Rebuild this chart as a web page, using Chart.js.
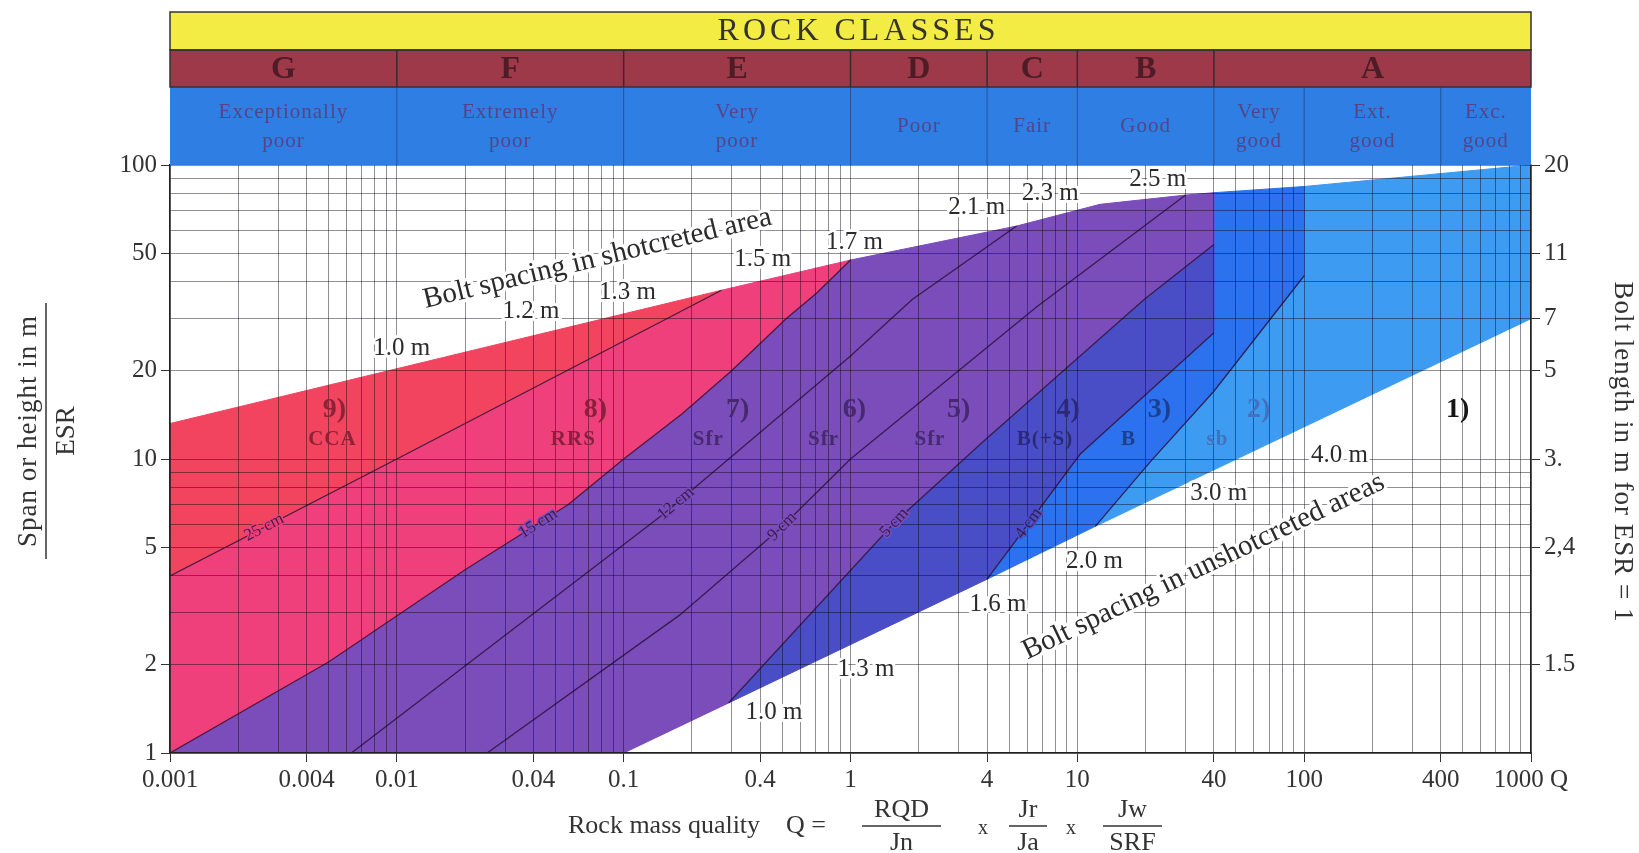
<!DOCTYPE html>
<html lang="en">
<head>
<meta charset="utf-8">
<title>Q-system rock support chart</title>
<script src="https://cdn.jsdelivr.net/npm/chart.js@4.4.1/dist/chart.umd.min.js"></script>
<style>
  html, body { margin: 0; padding: 0; background: #fff; }
  #wrap { width: 1639px; height: 853px; }
</style>
</head>
<body>
<div id="wrap"><canvas id="qchart"></canvas></div>
<script>
// ---------- Axes ----------
const qMin = 0.001, qMax = 1000;
const sMin = 1, sMax = 100;
const decadesQ = [0.001, 0.01, 0.1, 1, 10, 100];
const decadesS = [1, 10];
const mantissas = [1, 2, 3, 4, 5, 6, 7, 8, 9];
const qTickLabels = [0.001, 0.004, 0.01, 0.04, 0.1, 0.4, 1, 4, 10, 40, 100, 400, 1000];
const spanTickLabels = [1, 2, 5, 10, 20, 50, 100];
const boltTickSpans = [2, 5, 10, 20, 30, 50, 100];
const boltTickLabels = ['1.5', '2,4', '3.', '5', '7', '11', '20'];

// ---------- Header bands ----------
const classBounds = [0.001, 0.01, 0.1, 1, 4, 10, 40, 1000];
const classLetters = ['G', 'F', 'E', 'D', 'C', 'B', 'A'];
const qualityBounds = [0.001, 0.01, 0.1, 1, 4, 10, 40, 100, 400, 1000];
const qualityNames = [['Exceptionally', 'poor'], ['Extremely', 'poor'], ['Very', 'poor'], ['Poor'], ['Fair'],
                      ['Good'], ['Very', 'good'], ['Ext.', 'good'], ['Exc.', 'good']];

// ---------- Support categories, polygon vertices (Q, span/ESR) ----------
const cat9Q = [0.001, 0.01, 0.27, 0.001];
const cat9S = [4.0, 10, 37.5, 13.2];
const cat8Q = [0.001, 0.005, 0.02, 0.057, 0.1, 0.18, 0.3, 0.52, 0.71, 1, 0.27, 0.01, 0.001];
const cat8S = [1, 2.04, 4.2, 7.0, 10, 14.2, 20, 30, 36.7, 47.5, 37.5, 10, 4.0];
const cat7Q = [0.001, 0.1, 0.29, 1.56, 3.86, 19.7, 40, 40, 30, 12.6, 5.4, 1, 0.71, 0.52, 0.3, 0.18, 0.1, 0.057, 0.02, 0.005];
const cat7S = [1, 1, 1.48, 6.07, 11.5, 34.9, 53.7, 80.5, 79, 73.5, 62, 47.5, 36.7, 30, 20, 14.2, 10, 7.0, 4.2, 2.04];
const cat4Q = [0.29, 4, 10.3, 40, 40, 19.7, 3.86, 1.56];
const cat4S = [1.48, 3.9, 10.4, 26.9, 53.7, 34.9, 11.5, 6.07];
const cat3Q = [4, 12, 21, 40, 100, 100, 40, 40, 10.3];
const cat3S = [3.9, 5.9, 9.8, 17, 42, 84.5, 80.5, 26.9, 10.4];
const cat2Q = [12, 1000, 1000, 100, 100, 40, 21];
const cat2S = [5.9, 30, 100, 84.5, 42, 17, 9.8];

// ---------- Shotcrete thickness lines ----------
const sc25Q = [0.001, 0.01, 0.27];
const sc25S = [4.0, 10, 37.5];
const sc15Q = [0.001, 0.005, 0.02, 0.057, 0.1, 0.18, 0.3, 0.52, 0.71, 1];
const sc15S = [1, 2.04, 4.2, 7.0, 10, 14.2, 20, 30, 36.7, 47.5];
const sc12Q = [0.0063, 0.15, 1, 1.87, 5.4];
const sc12S = [1, 6.5, 22.4, 34.9, 62];
const sc9Q = [0.025, 0.177, 0.49, 1, 6.65, 30];
const sc9S = [1, 2.95, 5.8, 10, 33, 79];
const sc5Q = [0.29, 1.56, 3.86, 19.7, 40];
const sc5S = [1.48, 6.07, 11.5, 34.9, 53.7];
const sc4Q = [4, 10.3, 40];
const sc4S = [3.9, 10.4, 26.9];
const sb3Q = [12, 21, 40, 100];
const sb3S = [5.9, 9.8, 17, 42];

// ---------- Annotations ----------
const regionNums = ['9)', '8)', '7)', '6)', '5)', '4)', '3)', '2)', '1)'];
const regionNumQ = [0.0053, 0.075, 0.318, 1.04, 3.0, 9.1, 23, 63, 475];
const regionCodes = ['CCA', 'RRS', 'Sfr', 'Sfr', 'Sfr', 'B(+S)', 'B', 'sb'];
const regionCodeQ = [0.0052, 0.06, 0.236, 0.76, 2.24, 7.2, 16.8, 41.5];
const regionNumS = 14.7, regionCodeS = 11.6;

const upperSpacing = ['1.0 m', '1.2 m', '1.3 m', '1.5 m', '1.7 m', '2.1 m', '2.3 m', '2.5 m'];
const upperSpacingQ = [0.0105, 0.039, 0.104, 0.41, 1.04, 3.6, 7.6, 22.6];
const upperSpacingS = [23.8, 31.8, 36.8, 47.8, 54.5, 72, 80, 89];
const lowerSpacing = ['1.0 m', '1.3 m', '1.6 m', '2.0 m', '3.0 m', '4.0 m'];
const lowerSpacingQ = [0.46, 1.17, 4.47, 11.9, 42, 143];
const lowerSpacingS = [1.37, 1.92, 3.19, 4.5, 7.65, 10.3];

const thicknessLabels = ['25 cm', '15 cm', '12 cm', '9 cm', '5 cm', '4 cm'];
const thicknessAtQ = [0.0026, 0.042, 0.17, 0.5, 1.56, 6.1];

// ---------- Colours ----------
const colCat9 = '#f2445f';
const colCat8 = '#f0407c';
const colCat7 = '#7a4dba';
const colCat4 = '#4a4ec6';
const colCat3 = '#2c71ee';
const colCat2 = '#3d9bf1';
const lineCol = 'rgba(45,18,60,0.85)';
const serif = "'Liberation Serif', 'Times New Roman', serif";

Chart.defaults.font.family = serif;
Chart.defaults.color = '#333';

// ---------- Helpers ----------
const pts = (qs, ss) => qs.map((q, i) => ({ x: q, y: ss[i] }));
const isOn = (v, list) => list.some(l => Math.abs(Math.log10(v / l)) < 1e-6);
const gridQ = decadesQ.flatMap(d => mantissas.map(m => +(m * d).toPrecision(6))).concat([qMax]);
const gridS = decadesS.flatMap(d => mantissas.map(m => m * d)).concat([sMax]);

function area(label, qs, ss, color){
  return { label, data: pts(qs, ss), backgroundColor: color, borderColor: color, borderWidth: 1,
           fill: 'shape', pointRadius: 0, tension: 0 };
}
function edge(label, qs, ss){
  return { label, data: pts(qs, ss), borderColor: lineCol, borderWidth: 1.3, fill: false,
           pointRadius: 0, tension: 0 };
}

function text(ctx, str, x, y, o = {}){
  ctx.save();
  ctx.translate(x, y);
  if (o.angle) ctx.rotate(o.angle);
  ctx.font = o.font || `25px ${serif}`;
  ctx.textAlign = o.align || 'center';
  ctx.textBaseline = 'middle';
  if ('letterSpacing' in ctx) ctx.letterSpacing = o.spacing || '0px';
  if (o.halo){
    ctx.strokeStyle = o.halo; ctx.lineWidth = o.haloWidth || 6; ctx.lineJoin = 'round';
    ctx.strokeText(str, 0, 0);
  }
  ctx.fillStyle = o.color || '#2b2b2b';
  ctx.fillText(str, 0, 0);
  ctx.restore();
}

function seg(ctx, x1, y1, x2, y2){
  ctx.beginPath(); ctx.moveTo(x1, y1); ctx.lineTo(x2, y2); ctx.stroke();
}

// position + direction on a boundary line, for labels sitting on it
function onLine(xs, ys, qs, ss, q){
  let i = 0;
  while (i < qs.length - 2 && q > qs[i + 1]) i++;
  const x1 = xs.getPixelForValue(qs[i]), y1 = ys.getPixelForValue(ss[i]);
  const x2 = xs.getPixelForValue(qs[i + 1]), y2 = ys.getPixelForValue(ss[i + 1]);
  const xp = xs.getPixelForValue(q);
  const t = (xp - x1) / (x2 - x1);
  return { x: xp, y: y1 + t * (y2 - y1), angle: Math.atan2(y2 - y1, x2 - x1) };
}

// ---------- Header, titles and labels ----------
const qPlugin = {
  id: 'qsystem',
  afterDraw(chart){
    const { ctx, chartArea: a, scales: { x, y } } = chart;
    const px = q => x.getPixelForValue(q);
    const py = s => y.getPixelForValue(s);
    const L = px(qMin), R = px(qMax);
    const y0 = 12, y1 = 50, y2 = 87, y3 = a.top;

    // header bands
    ctx.save();
    ctx.fillStyle = '#f3ec45'; ctx.fillRect(L, y0, R - L, y1 - y0);
    ctx.fillStyle = '#9e3949'; ctx.fillRect(L, y1, R - L, y2 - y1);
    ctx.fillStyle = '#2f7ee3'; ctx.fillRect(L, y2, R - L, y3 - y2);
    ctx.strokeStyle = '#3a2a2c'; ctx.lineWidth = 1.5;
    classBounds.slice(1, -1).forEach(q => seg(ctx, px(q), y1, px(q), y2));
    ctx.strokeStyle = 'rgba(35,70,130,0.75)'; ctx.lineWidth = 1;
    qualityBounds.slice(1, -1).forEach(q => seg(ctx, px(q), y2, px(q), y3));
    ctx.strokeStyle = '#333'; ctx.lineWidth = 1.5;
    ctx.strokeRect(L, y0, R - L, y1 - y0);
    ctx.strokeRect(L, y1, R - L, y2 - y1);
    ctx.restore();

    text(ctx, 'ROCK CLASSES', (L + R) / 2 + 8, (y0 + y1) / 2 + 1,
         { font: `32px ${serif}`, color: '#35332a', spacing: '4px' });
    classLetters.forEach((c, i) => {
      const cx = (px(classBounds[i]) + px(classBounds[i + 1])) / 2;
      text(ctx, c, cx, (y1 + y2) / 2 + 1, { font: `bold 32px ${serif}`, color: '#4e1c27' });
    });
    qualityNames.forEach((n, i) => {
      const cx = (px(qualityBounds[i]) + px(qualityBounds[i + 1])) / 2;
      const mid = (y2 + y3) / 2;
      const f = { font: `21px ${serif}`, color: '#54458a', spacing: '1px' };
      if (n.length === 1) text(ctx, n[0], cx, mid, f);
      else {
        text(ctx, n[0], cx, mid - 14, f);
        text(ctx, n[1], cx, mid + 15, f);
      }
    });

    // shotcrete thickness labels on their lines
    const thickLines = [[sc25Q, sc25S, colCat8], [sc15Q, sc15S, colCat7], [sc12Q, sc12S, colCat7],
                        [sc9Q, sc9S, colCat7], [sc5Q, sc5S, colCat7], [sc4Q, sc4S, colCat4]];
    thicknessLabels.forEach((t, i) => {
      const [qs, ss, bg] = thickLines[i];
      const p = onLine(x, y, qs, ss, thicknessAtQ[i]);
      text(ctx, t, p.x, p.y, { angle: p.angle, font: `17px ${serif}`, color: 'rgba(50,22,62,0.9)', halo: bg, haloWidth: 3 });
    });

    // bolt spacing annotations
    const top = onLine(x, y, [0.001, 0.27], [13.2, 37.5], 0.0767);
    text(ctx, 'Bolt spacing in shotcreted area', top.x, py(48), { angle: top.angle, font: `29px ${serif}`, halo: '#fff', haloWidth: 7 });
    const bot = onLine(x, y, [0.1, 1000], [1, 30], 36);
    text(ctx, 'Bolt spacing in unshotcreted areas', bot.x, py(4.3), { angle: bot.angle, font: `29px ${serif}`, halo: '#fff', haloWidth: 7 });
    upperSpacing.forEach((t, i) => text(ctx, t, px(upperSpacingQ[i]), py(upperSpacingS[i]), { halo: '#fff', haloWidth: 6 }));
    lowerSpacing.forEach((t, i) => text(ctx, t, px(lowerSpacingQ[i]), py(lowerSpacingS[i]), { halo: '#fff', haloWidth: 6 }));

    // support category labels
    const labCols = ['#8e2238', '#8a1f3e', '#46296e', '#46296e', '#46296e', '#2b2a78', '#1c3f92', '#4470bd', '#151515'];
    regionNums.forEach((t, i) => text(ctx, t, px(regionNumQ[i]), py(regionNumS), { font: `bold 28px ${serif}`, color: labCols[i] }));
    regionCodes.forEach((t, i) => text(ctx, t, px(regionCodeQ[i]), py(regionCodeS), { font: `bold 21px ${serif}`, color: labCols[i], spacing: '1px' }));

    // axis titles
    text(ctx, 'Span or height in m', 29, 431, { angle: -Math.PI / 2, font: `27px ${serif}`, color: '#333', spacing: '1px' });
    ctx.save(); ctx.strokeStyle = '#333'; ctx.lineWidth = 1.5; seg(ctx, 46, 303, 46, 559); ctx.restore();
    text(ctx, 'ESR', 67, 431, { angle: -Math.PI / 2, font: `27px ${serif}`, color: '#333' });
    text(ctx, 'Bolt length in m for ESR = 1', 1622, 452, { angle: Math.PI / 2, font: `27px ${serif}`, color: '#333', spacing: '1px' });

    const by = 826;
    text(ctx, 'Rock mass quality', 568, by, { align: 'left', font: `26px ${serif}`, color: '#333' });
    text(ctx, 'Q =', 786, by, { align: 'left', font: `26px ${serif}`, color: '#333' });
    const fracs = [['RQD', 'Jn', 862, 941], ['Jr', 'Ja', 1009, 1047], ['Jw', 'SRF', 1103, 1162]];
    ctx.save(); ctx.strokeStyle = '#333'; ctx.lineWidth = 1.3;
    fracs.forEach(([n, d, a1, a2]) => {
      seg(ctx, a1, by, a2, by);
      text(ctx, n, (a1 + a2) / 2, by - 16, { font: `26px ${serif}`, color: '#333' });
      text(ctx, d, (a1 + a2) / 2, by + 17, { font: `26px ${serif}`, color: '#333' });
    });
    ctx.restore();
    text(ctx, 'x', 983, by + 3, { font: `20px ${serif}`, color: '#333' });
    text(ctx, 'x', 1071, by + 3, { font: `20px ${serif}`, color: '#333' });
  }
};

// ---------- Chart ----------
const gridCol = 'rgba(12,6,22,0.45)';
const tickFont = { family: serif, size: 25 };

new Chart(document.getElementById('qchart'), {
  type: 'line',
  data: {
    datasets: [
      edge('25 cm', sc25Q, sc25S),
      edge('15 cm', sc15Q, sc15S),
      edge('12 cm', sc12Q, sc12S),
      edge('9 cm', sc9Q, sc9S),
      edge('5 cm', sc5Q, sc5S),
      edge('4 cm', sc4Q, sc4S),
      edge('B/sb', sb3Q, sb3S),
      area('9) CCA', cat9Q, cat9S, colCat9),
      area('8) RRS', cat8Q, cat8S, colCat8),
      area('5)-7) Sfr', cat7Q, cat7S, colCat7),
      area('4) B(+S)', cat4Q, cat4S, colCat4),
      area('3) B', cat3Q, cat3S, colCat3),
      area('2) sb', cat2Q, cat2S, colCat2)
    ]
  },
  options: {
    responsive: true,
    maintainAspectRatio: false,
    devicePixelRatio: 1,
    animation: false,
    layout: { padding: { top: 165, left: 0, right: 0, bottom: 0 } },
    plugins: { legend: { display: false }, tooltip: { enabled: false } },
    scales: {
      x: {
        type: 'logarithmic', min: qMin, max: qMax, position: 'bottom',
        afterBuildTicks: s => { s.ticks = gridQ.map(v => ({ value: v })); },
        afterFit: s => { s.height = 100; },
        ticks: {
          autoSkip: false, maxRotation: 0, minRotation: 0, padding: 3, color: '#333', font: tickFont,
          callback: v => isOn(v, qTickLabels) ? (isOn(v, [1000]) ? '1000 Q' : String(v)) : ''
        },
        grid: {
          z: 1, color: gridCol, lineWidth: 1, tickLength: 9,
          tickColor: c => (c.tick && isOn(c.tick.value, qTickLabels)) ? '#333' : 'rgba(0,0,0,0)'
        },
        border: { display: true, color: '#222', width: 1.5, z: 2 }
      },
      y: {
        type: 'logarithmic', min: sMin, max: sMax, position: 'left',
        afterBuildTicks: s => { s.ticks = gridS.map(v => ({ value: v })); },
        afterFit: s => { s.width = 170; },
        ticks: {
          autoSkip: false, padding: 4, color: '#333', font: tickFont,
          callback: v => isOn(v, spanTickLabels) ? String(v) : ''
        },
        grid: {
          z: 1, color: gridCol, lineWidth: 1, tickLength: 9,
          tickColor: c => (c.tick && isOn(c.tick.value, spanTickLabels)) ? '#333' : 'rgba(0,0,0,0)'
        },
        border: { display: true, color: '#222', width: 1.5, z: 2 }
      },
      y2: {
        type: 'logarithmic', min: sMin, max: sMax, position: 'right',
        afterBuildTicks: s => { s.ticks = boltTickSpans.map(v => ({ value: v })); },
        afterFit: s => { s.width = 108; },
        ticks: { autoSkip: false, padding: 4, color: '#333', font: tickFont, callback: (v, i) => boltTickLabels[i] },
        grid: { z: 1, drawOnChartArea: false, tickLength: 9, tickColor: '#333' },
        border: { display: true, color: '#222', width: 1.5, z: 2 }
      }
    }
  },
  plugins: [qPlugin]
});
</script>
</body>
</html>
